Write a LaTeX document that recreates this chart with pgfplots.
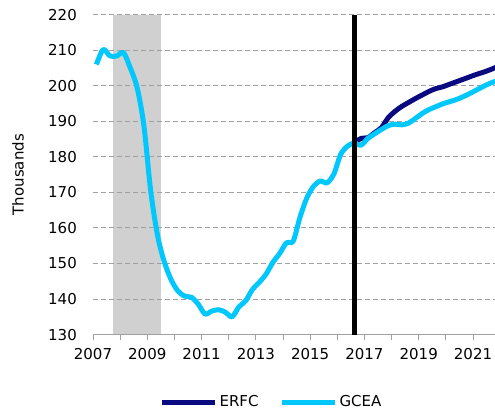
\documentclass[border=0pt]{standalone}
\usepackage{fontspec}
\setmainfont{DejaVu Sans}
\usepackage{pgfplots}
\pgfplotsset{compat=1.18}
\usepackage{pgfplotstable}

\definecolor{erfc}{HTML}{0A0A80}
\definecolor{gcea}{HTML}{00C8FF}
\definecolor{band}{HTML}{D0D0D0}
\definecolor{gridc}{HTML}{A0A0A0}

% quarterly values, plotted at mid-quarter
\pgfplotstableread{
t        v
2007.125 206.0
2007.375 210.2
2007.625 208.4
2007.875 208.4
2008.125 209.3
2008.375 205.0
2008.625 199.5
2008.875 188.8
2009.125 170.5
2009.375 158.0
2009.625 150.5
2009.875 145.5
2010.125 142.3
2010.375 140.8
2010.625 140.5
2010.875 138.6
2011.125 135.8
2011.375 136.6
2011.625 137.0
2011.875 136.3
2012.125 135.0
2012.375 137.8
2012.625 139.5
2012.875 142.7
2013.125 144.7
2013.375 147.0
2013.625 150.3
2013.875 152.8
2014.125 155.8
2014.375 156.3
2014.625 163.0
2014.875 168.4
2015.125 171.7
2015.375 173.2
2015.625 172.7
2015.875 175.2
2016.125 180.7
2016.375 183.0
2016.625 183.9
2016.875 183.3
2017.125 185.2
2017.375 186.5
2017.625 187.7
2017.875 188.8
2018.125 189.2
2018.375 189.0
2018.625 189.5
2018.875 190.8
2019.125 192.2
2019.375 193.3
2019.625 194.1
2019.875 194.9
2020.125 195.5
2020.375 196.1
2020.625 196.9
2020.875 197.8
2021.125 198.8
2021.375 199.8
2021.625 200.7
2021.875 201.4
}\gcea

\pgfplotstableread{
t        v
2016.625 183.9
2016.875 185.2
2017.125 185.4
2017.375 186.8
2017.625 188.2
2017.875 191.0
2018.125 192.8
2018.375 194.2
2018.625 195.3
2018.875 196.4
2019.125 197.4
2019.375 198.4
2019.625 199.2
2019.875 199.7
2020.125 200.4
2020.375 201.1
2020.625 201.8
2020.875 202.5
2021.125 203.2
2021.375 203.8
2021.625 204.5
2021.875 205.3
}\erfc

\begin{document}
\fontsize{15}{17}\selectfont
\begin{tikzpicture}
\begin{axis}[
    set layers,
    scale only axis,
    width=402pt, height=319.9pt,
    xmin=2007, xmax=2021.81,
    ymin=130, ymax=220,
    axis x line*=bottom,
    axis y line*=left,
    y axis line style={draw=none},
    x axis line style={gridc, line width=1pt},
    xtick={2007,2009,...,2021},
    minor xtick={2008,2010,...,2020},
    xticklabels={2007,2009,2011,2013,2015,2017,2019,2021},
    ytick={130,140,...,220},
    tick align=outside,
    major tick length=5pt, minor tick length=5pt,
    xtick style={gridc, line width=1pt},
    ytick style={draw=none},
    ymajorgrids,
    grid style={gridc, line width=1pt, dash pattern=on 5pt off 3pt},
    /pgf/number format/assume math mode=true,
    tick label style={font=\fontsize{15}{17}\selectfont},
    yticklabel style={xshift=-6pt},
    xticklabel style={yshift=-4pt},
    ylabel={Thousands},
    ylabel style={at={(axis description cs:-0.1866,0.5)}, anchor=center, font=\fontsize{15}{17}\selectfont},
    legend style={draw=none, fill=none, legend columns=2,
        at={(axis description cs:0.444,-0.211)}, anchor=center,
        font=\fontsize{15}{17}\selectfont,
        /tikz/every even column/.append style={column sep=19pt}},
    legend image code/.code={\draw[#1, line width=5pt] (0pt,0pt) -- (53pt,0pt);},
]
\addplot[on layer=axis background, fill=band, draw=none, forget plot]
    coordinates {(2007.75,130) (2007.75,220) (2009.5,220) (2009.5,130)} -- cycle;
\addplot[erfc, line width=5pt, smooth, line join=round] table[x=t, y=v] {\erfc};
\addlegendentry{ERFC}
\addplot[gcea, line width=5pt, smooth, line join=round] table[x=t, y=v] {\gcea};
\addlegendentry{GCEA}
\addplot[black, line width=5pt, forget plot] coordinates {(2016.625,130) (2016.625,220)};
\end{axis}
\pgfresetboundingbox
\path (-93pt,-79.4pt) rectangle (402pt,334.6pt);
\end{tikzpicture}
\end{document}
